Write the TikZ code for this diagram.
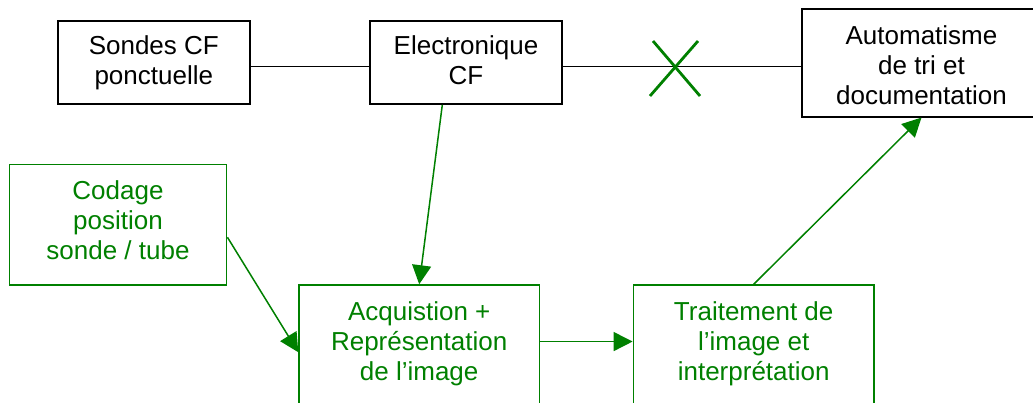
\documentclass[tikz,border=0pt]{standalone}
\usepackage{fontspec}
\setmainfont{Liberation Sans}
\usetikzlibrary{arrows.meta,calc}
\definecolor{dgreen}{RGB}{0,128,0}
\begin{document}
\begin{tikzpicture}[x=1pt,y=-1pt,
  every node/.style={font=\fontsize{26}{30}\selectfont, align=center, inner sep=0pt, text depth=10pt},
  blackbox/.style={draw=black, line width=1.7pt, text=black},
  greenbox/.style={draw=dgreen, line width=1.5pt, text=dgreen},
  conn/.style={draw=black, line width=1.5pt},
  crossline/.style={draw=dgreen, line width=2.8pt},
  garrow/.style={draw=dgreen, line width=1.5pt, -{Triangle[length=19pt,width=19pt]}, fill=dgreen}
]
\useasboundingbox (0,0) rectangle (1033,403);
\clip (0,0) rectangle (1033,403);

\node[blackbox, minimum width=192.3pt, minimum height=83.3pt, text height=55.2pt] (sondes) at (153.8,62.4) {Sondes CF\\ponctuelle};
\node[blackbox, minimum width=192pt, minimum height=83.3pt, text height=55.2pt] (elec) at (466,62.4) {Electronique\\CF};
\node[blackbox, minimum width=239pt, minimum height=107.4pt, text height=94pt] (auto) at (921.5,63) {Automatisme\\de tri et\\documentation};

\node[greenbox, minimum width=217.4pt, minimum height=120.7pt, text height=80.6pt] (codage) at (118,224.7) {Codage\\position\\sonde / tube};

\node[greenbox, minimum width=240.3pt, minimum height=160pt, text height=40pt] (acq) at (419.2,365) {Acquistion +\\Représentation\\de l’image};
\node[greenbox, minimum width=240.7pt, minimum height=160pt, text height=40pt] (trait) at (753.7,365) {Traitement de\\l’image et\\interprétation};

% black connectors
\coordinate (s1) at ([yshift=-4pt]sondes.east);
\coordinate (e1) at ([yshift=-4pt]elec.east);
\draw[conn] (s1) -- (s1 -| elec.west);
\draw[conn] (e1) -- (e1 -| auto.west);
\coordinate (cross) at (675,68.5);
\draw[crossline] ($(cross)+(-22,-27.5)$) -- ($(cross)+(25,27.5)$);
\draw[crossline] ($(cross)+(23,-27.5)$) -- ($(cross)+(-25,27.5)$);

% green arrows
\draw[garrow] ([xshift=-23.7pt]elec.south) -- (acq.north);
\draw[garrow] ([yshift=-12.6pt]codage.east) -- ([yshift=-68pt]acq.north west);
\draw[garrow] ([yshift=-57.3pt]acq.north east) -- ([yshift=-57.3pt]trait.north west);
\draw[garrow] (trait.north) -- (auto.south);
\end{tikzpicture}
\end{document}
